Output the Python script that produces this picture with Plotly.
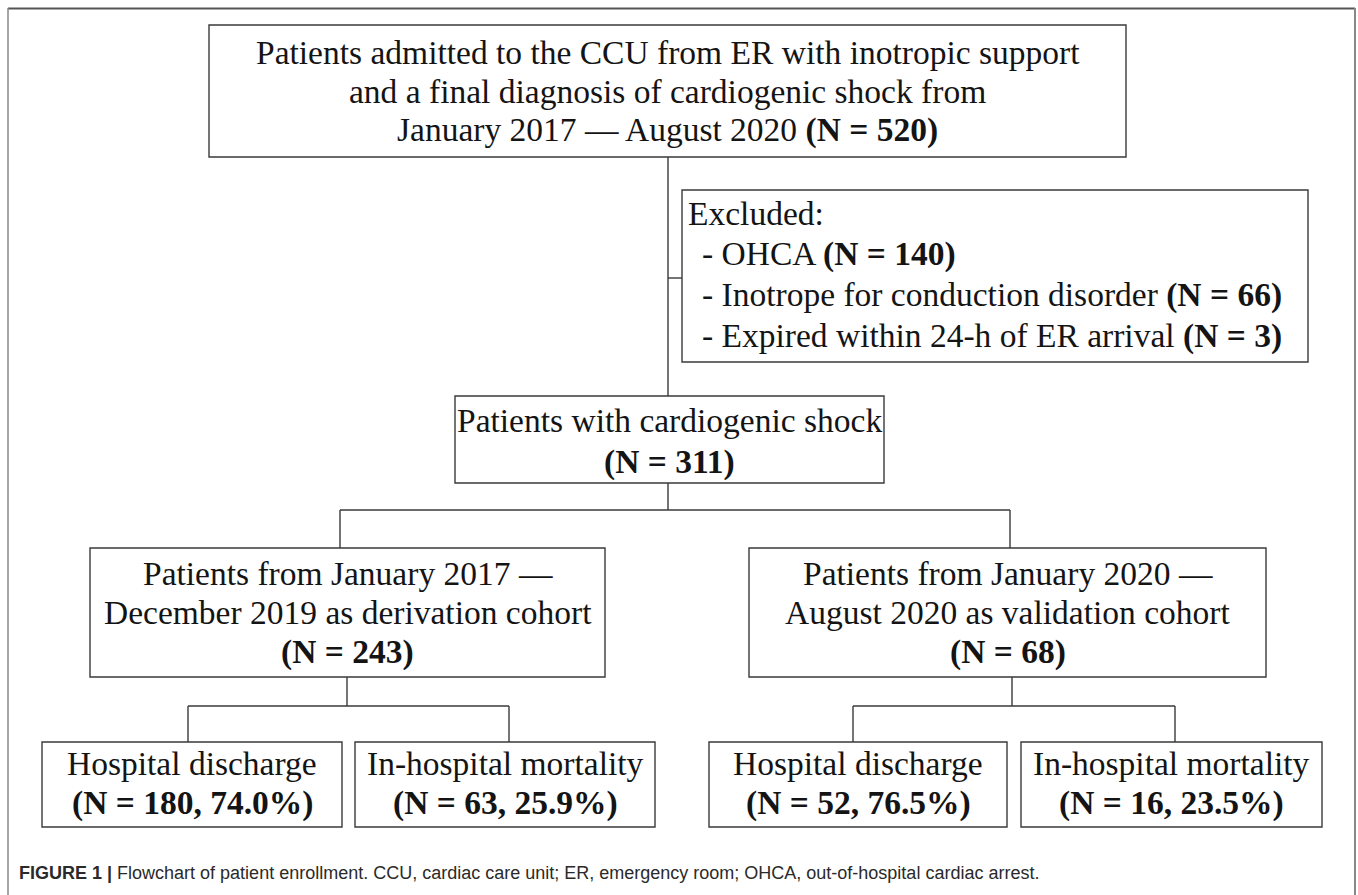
import plotly.graph_objects as go

# ---------------- data ----------------
top_lines = ["Patients admitted to the CCU from ER with inotropic support",
             "and a final diagnosis of cardiogenic shock from",
             "January 2017 \u2014 August 2020"]
n_total = 520
excluded_reasons = ["OHCA", "Inotrope for conduction disorder", "Expired within 24-h of ER arrival"]
excluded_n = [140, 66, 3]
shock_label = "Patients with cardiogenic shock"
n_shock = 311
cohort_lines = [["Patients from January 2017 \u2014", "December 2019 as derivation cohort"],
                ["Patients from January 2020 \u2014", "August 2020 as validation cohort"]]
cohort_n = [243, 68]
outcome_labels = ["Hospital discharge", "In-hospital mortality",
                  "Hospital discharge", "In-hospital mortality"]
outcome_n = [180, 63, 52, 16]
outcome_pct = [74.0, 25.9, 76.5, 23.5]
caption_bold = "FIGURE 1 |"
caption_text = " Flowchart of patient enrollment. CCU, cardiac care unit; ER, emergency room; OHCA, out-of-hospital cardiac arrest."

# ---------------- geometry (layout) ----------------
W, H = 1358, 895
box_top = (209, 25, 1126, 157)
box_excl = (682, 190, 1308, 362)
box_mid = (455, 396, 884, 483)
box_coh = [(90, 548, 605, 677), (749, 548, 1266, 677)]
box_out = [(42, 742, 342, 827), (355, 742, 655, 827),
           (709, 742, 1007, 827), (1021, 742, 1322, 827)]
top_y = [52, 91, 130]
excl_y = [213, 254, 295, 336]
mid_y = [420, 462]
coh_y = [573, 612, 652]
out_y = [763, 803]
branch1_y, branch1_x = 510, [340, 1010]
branch2_y = 706
coh_stem_x = [347, 1012]
branch2_x = [188, 509, 853, 1175]

SERIF = "Liberation Serif, Times New Roman, serif"
FS = 33.5
TXT = "#141414"
LINE = "#3a3a3a"

fig = go.Figure()
shapes = []
ann = []

def rect(b):
    shapes.append(dict(type="rect", x0=b[0], y0=b[1], x1=b[2], y1=b[3],
                       line=dict(color=LINE, width=1.4), fillcolor="white", layer="below"))

def seg(x0, y0, x1, y1):
    shapes.append(dict(type="line", x0=x0, y0=y0, x1=x1, y1=y1,
                       line=dict(color=LINE, width=1.4), layer="below"))

def cx(b):
    return (b[0] + b[2]) / 2

def text(x, y, t, size=FS, xanchor="center"):
    ann.append(dict(x=x, y=y, text=t, showarrow=False, xanchor=xanchor, yanchor="middle",
                    align="left" if xanchor == "left" else "center",
                    font=dict(family=SERIF, size=size, color=TXT)))

# outer frame
shapes.append(dict(type="line", x0=8, y0=8.5, x1=1355, y1=8.5, line=dict(color="#555", width=2)))
shapes.append(dict(type="line", x0=8, y0=8, x1=8, y1=H + 5, line=dict(color="#888", width=1.5)))
shapes.append(dict(type="line", x0=1355, y0=8, x1=1355, y1=H + 5, line=dict(color="#888", width=2)))

# connectors
mx = 668
seg(mx, box_top[3], mx, box_mid[1])
seg(mx, 278, box_excl[0], 278)
seg(mx, box_mid[3], mx, branch1_y)
seg(branch1_x[0], branch1_y, branch1_x[1], branch1_y)
for x in branch1_x:
    seg(x, branch1_y, x, box_coh[0][1])
for i in range(2):
    seg(coh_stem_x[i], box_coh[i][3], coh_stem_x[i], branch2_y)
    xl, xr = branch2_x[2 * i], branch2_x[2 * i + 1]
    seg(xl, branch2_y, xr, branch2_y)
    seg(xl, branch2_y, xl, box_out[0][1])
    seg(xr, branch2_y, xr, box_out[0][1])

for b in [box_top, box_excl, box_mid] + box_coh + box_out:
    rect(b)

# texts
mx_top = cx(box_top)
text(mx_top, top_y[0], top_lines[0])
text(mx_top, top_y[1], top_lines[1])
text(mx_top, top_y[2], top_lines[2] + f" <b>(N = {n_total})</b>")

text(686, excl_y[0], "Excluded:", xanchor="left")
for k, (reason, n) in enumerate(zip(excluded_reasons, excluded_n)):
    text(700, excl_y[k + 1], f"- {reason} <b>(N = {n})</b>", xanchor="left")

text(cx(box_mid), mid_y[0], shock_label)
text(cx(box_mid), mid_y[1], f"<b>(N = {n_shock})</b>")

for b, lines, n in zip(box_coh, cohort_lines, cohort_n):
    text(cx(b), coh_y[0], lines[0])
    text(cx(b), coh_y[1], lines[1])
    text(cx(b), coh_y[2], f"<b>(N = {n})</b>")

for b, lab, n, p in zip(box_out, outcome_labels, outcome_n, outcome_pct):
    text(cx(b), out_y[0], lab)
    text(cx(b), out_y[1], f"<b>(N = {n}, {p:.1f}%)</b>")

# caption
ann.append(dict(x=17, y=873, xanchor="left", yanchor="middle", showarrow=False, align="left",
                text=f"<b>{caption_bold}</b>{caption_text}",
                font=dict(family="Liberation Sans, Arial, sans-serif", size=18, color="#2a2a2a")))

fig.update_layout(
    width=W, height=H, margin=dict(l=0, r=0, t=0, b=0),
    paper_bgcolor="white", plot_bgcolor="white",
    xaxis=dict(range=[0, W], visible=False, fixedrange=True),
    yaxis=dict(range=[H, 0], visible=False, fixedrange=True),
    shapes=shapes, annotations=ann, showlegend=False,
)
fig.write_html("out.html", config={"displayModeBar": False},
               post_script="document.body.style.margin='0px';document.body.style.overflow='hidden';")
